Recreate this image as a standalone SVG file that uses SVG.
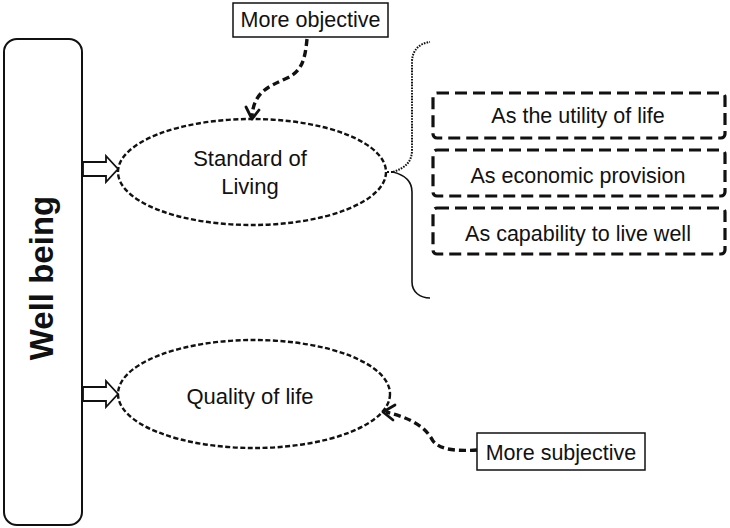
<svg xmlns="http://www.w3.org/2000/svg" width="730" height="528" viewBox="0 0 730 528">
<style>
text{font-family:"Liberation Sans",Arial,sans-serif;fill:#111;}
.ell{fill:none;stroke:#111;stroke-width:2.4;stroke-dasharray:5 2.5;}
.dbox{fill:none;stroke:#111;stroke-width:3.2;stroke-dasharray:12 6;}
.conn{fill:none;stroke:#111;stroke-width:3.4;stroke-dasharray:7 4;}
.head{fill:none;stroke:#111;stroke-width:2.8;stroke-linecap:round;stroke-linejoin:round;}
.lbl{fill:#fff;stroke:#111;stroke-width:1.5;}
.arrow{fill:#fff;stroke:#111;stroke-width:1.8;stroke-linejoin:miter;}
</style>
<rect width="730" height="528" fill="#fff"/>
<g id="wellbeing">
<rect x="4" y="39" width="78" height="486" rx="13" fill="#fff" stroke="#111" stroke-width="2"/>
<text transform="translate(53,278) rotate(-90)" text-anchor="middle" font-size="33" font-weight="bold">Well being</text>
</g>
<g id="standard">
<ellipse cx="252" cy="172" rx="134" ry="53" class="ell"/>
<text x="250" y="166" text-anchor="middle" font-size="22">Standard of</text>
<text x="250" y="194" text-anchor="middle" font-size="22">Living</text>
</g>
<g id="quality">
<ellipse cx="254" cy="394" rx="136" ry="54" class="ell"/>
<text x="250" y="404" text-anchor="middle" font-size="22">Quality of life</text>
</g>
<g id="objective">
<rect x="233" y="3" width="155" height="34" class="lbl"/>
<text x="310.5" y="27" text-anchor="middle" font-size="21.5">More objective</text>
</g>
<g id="subjective">
<rect x="477" y="433" width="168" height="37" class="lbl"/>
<text x="561" y="460" text-anchor="middle" font-size="21.5">More subjective</text>
</g>
<g id="utility">
<rect x="433" y="93" width="292" height="45" rx="4" class="dbox"/>
<text x="578" y="123" text-anchor="middle" font-size="21.5">As the utility of life</text>
</g>
<g id="economic">
<rect x="433" y="150" width="292" height="46" rx="4" class="dbox"/>
<text x="578" y="183" text-anchor="middle" font-size="21.5">As economic provision</text>
</g>
<g id="capability">
<rect x="433" y="208" width="292" height="46" rx="4" class="dbox"/>
<text x="578" y="241" text-anchor="middle" font-size="21.5">As capability to live well</text>
</g>
<g id="connectors">
<path class="arrow" d="M83,162 H106 V156 L118,169 L106,182 V176 H83 Z"/>
<path class="arrow" d="M83,387 H106 V381 L118,394 L106,407 V401 H83 Z"/>
<path class="conn" d="M307,39 C305,60 302,72 285,79 C268,87 254,92 252,116"/>
<path class="head" d="M246,107 L252,119 L259,110"/>
<path class="conn" d="M477,450 C460,451 441,451 433,441 C425,426 410,418 386,412"/>
<path class="head" d="M395,405 L383,412 L393,420"/>
<path d="M387,172 H393" fill="none" stroke="#111" stroke-width="2.2" stroke-dasharray="2 2"/>
<path d="M393,172 C405,168 412,162 412,150 V62 C412,50 420,43 430,42" fill="none" stroke="#111" stroke-width="2" stroke-dasharray="1.6 1.2"/>
<path d="M393,172 C405,175 412,182 412,192 V282 C412,292 420,298 430,298" fill="none" stroke="#111" stroke-width="1.6"/>
</g>
</svg>
